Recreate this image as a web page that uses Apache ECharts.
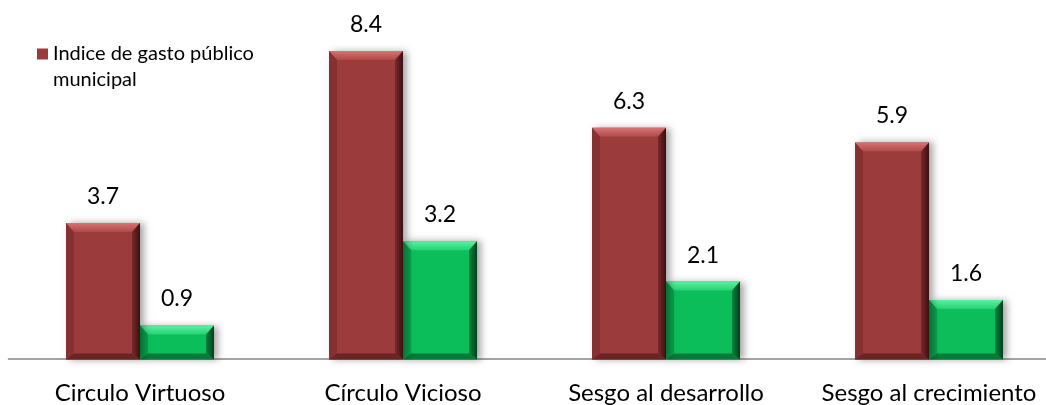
<!DOCTYPE html>
<html><head><meta charset="utf-8">
<script src="https://cdn.jsdelivr.net/npm/echarts@6/dist/echarts.min.js"></script>
<style>html,body{margin:0;padding:0;background:#fff}#c{width:1046px;height:405px}</style>
</head><body><div id="c"></div>
<script>
const categories = ['Circulo Virtuoso', 'Círculo Vicioso', 'Sesgo al desarrollo', 'Sesgo al crecimiento'];
const gastoMunicipal = [3.7, 8.4, 6.3, 5.9];
const segundaSerie = [0.9, 3.2, 2.1, 1.6];
const seriesNames = ['Indice de gasto público municipal', 'Serie 2'];

const FONT = 'Lato, "Open Sans", sans-serif';
const BAR_W = 74;
const palettes = [
  {body: '#9c3b3b', top: ['#d67373', '#b24848'], left: '#863131', right: ['#7a2a2a', '#3a1010'], bottom: '#6a2424'},
  {body: '#0bbe5a', top: ['#5df0a2', '#25d274'], left: '#0aa24d', right: ['#06853d', '#023d1c'], bottom: '#067a38'}
];

function makeRender(seriesIdx) {
  const pal = palettes[seriesIdx];
  return function (params, api) {
    const idx = api.value(0), val = api.value(1);
    const base = api.coord([idx, 0]);
    const topPt = api.coord([idx, val]);
    const cx = base[0] + (seriesIdx === 0 ? -BAR_W / 2 : BAR_W / 2);
    const x0 = cx - BAR_W / 2, x1 = cx + BAR_W / 2;
    const y0 = topPt[1], y1 = base[1] + 1;
    const h = y1 - y0;
    const bt = Math.min(9, h / 2.5), bs = 8, bb = Math.min(6, h / 4);
    const ix0 = x0 + bs, ix1 = x1 - bs, iy0 = y0 + bt, iy1 = y1 - bb;
    const vgrad = (c) => new echarts.graphic.LinearGradient(0, 0, 0, 1, [{offset: 0, color: c[0]}, {offset: 1, color: c[1]}]);
    const hgrad = (c) => new echarts.graphic.LinearGradient(0, 0, 1, 0, [{offset: 0, color: c[0]}, {offset: 1, color: c[1]}]);
    return {
      type: 'group',
      children: [
        {type: 'rect', shape: {x: x0, y: y0, width: BAR_W, height: h},
          style: {fill: pal.body, shadowColor: 'rgba(0,0,0,0.35)', shadowBlur: 7, shadowOffsetX: 4, shadowOffsetY: 0}},
        {type: 'polygon', shape: {points: [[x0, y0], [x1, y0], [ix1, iy0], [ix0, iy0]]}, style: {fill: vgrad(pal.top)}},
        {type: 'polygon', shape: {points: [[x0, y0], [ix0, iy0], [ix0, iy1], [x0, y1]]}, style: {fill: pal.left}},
        {type: 'polygon', shape: {points: [[x1, y0], [x1, y1], [ix1, iy1], [ix1, iy0]]}, style: {fill: hgrad(pal.right)}},
        {type: 'polygon', shape: {points: [[x0, y1], [ix0, iy1], [ix1, iy1], [x1, y1]]}, style: {fill: pal.bottom}},
        {type: 'text', style: {text: val.toFixed(1), x: cx, y: y0 - 15, align: 'center', verticalAlign: 'bottom',
          font: '23px ' + FONT, fill: '#000'}}
      ]
    };
  };
}

const chart = echarts.init(document.getElementById('c'), null, {renderer: 'canvas'});
chart.setOption({
  animation: false,
  backgroundColor: '#fff',
  grid: {left: 8.5, right: -14.5, top: 29, bottom: 46.5, outerBoundsMode: 'none', containLabel: false},
  legend: {
    data: [{name: seriesNames[0], icon: 'rect'}],
    left: 32, top: 10, orient: 'vertical',
    itemWidth: 11, itemHeight: 11,
    itemStyle: {color: '#9c3b3b', borderWidth: 0},
    formatter: function () { return '\u00a0\nIndice de gasto público\nmunicipal'; },
    textStyle: {fontFamily: FONT, fontSize: 20, color: '#000', lineHeight: 26}
  },
  xAxis: {
    type: 'category', data: categories,
    axisLine: {show: true, lineStyle: {color: '#868686', width: 1.5}},
    axisTick: {show: false},
    axisLabel: {interval: 0, fontFamily: FONT, fontSize: 24, color: '#000', margin: 23}
  },
  yAxis: {type: 'value', min: 0, max: 9, show: false, splitLine: {show: false}},
  series: [
    {name: seriesNames[0], type: 'custom', renderItem: makeRender(0), itemStyle: {color: '#9c3b3b'},
      encode: {x: 0, y: 1}, data: gastoMunicipal.map((v, i) => [i, v]), z: 3},
    {name: seriesNames[1], type: 'custom', renderItem: makeRender(1), itemStyle: {color: '#0bbe5a'},
      encode: {x: 0, y: 1}, data: segundaSerie.map((v, i) => [i, v]), z: 2}
  ]
});
</script></body></html>
